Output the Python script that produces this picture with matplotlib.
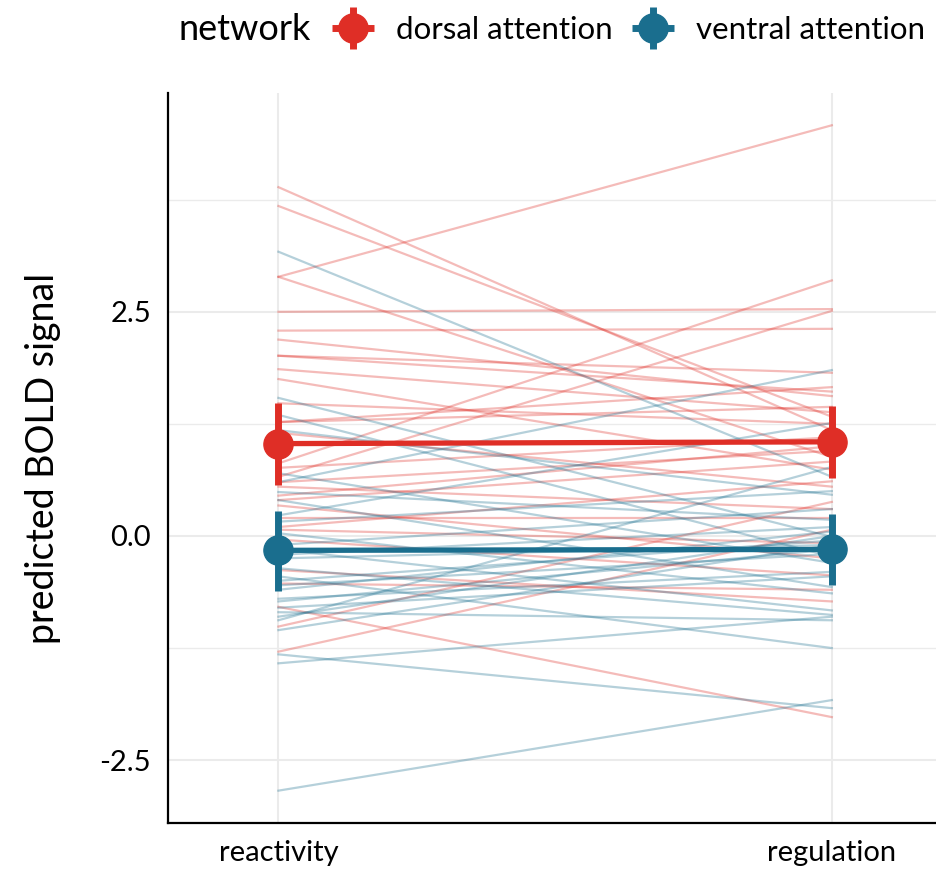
import numpy as np
import matplotlib as mpl
mpl.use("Agg")
import matplotlib.pyplot as plt
from matplotlib.lines import Line2D
from matplotlib.legend_handler import HandlerTuple

plt.rcParams.update({"font.family": ["Lato", "DejaVu Sans"]})

# conditions on x
conditions = ["reactivity", "regulation"]

# subject-level predicted BOLD, dorsal attention network
dorsal_react = [3.89, 3.68, 2.89, 2.89, 2.50, 2.29, 2.19, 2.01, 2.01, 1.86,
                1.75, 1.48, 1.27, 1.27, 1.15, 0.81, 0.76, 0.66, 0.60, 0.55,
                0.45, 0.40, 0.34, 0.20, 0.07, 0.10, -0.04, -0.38, -0.53, -0.79,
                -1.01, -1.29]
dorsal_reg = [1.18, 1.33, 4.58, 0.88, 2.53, 2.31, 1.56, 1.61, 1.82, 1.38,
              0.74, 1.25, 1.44, 1.66, 0.55, 2.85, 1.10, 2.51, 0.95, 0.30,
              1.00, 0.83, -0.25, 0.20, -0.08, 0.61, -0.44, -0.73, -0.60, -2.02,
              0.38, 0.07]

# subject-level predicted BOLD, ventral attention network
ventral_react = [3.17, 1.54, 1.35, 1.18, 0.70, 0.60, 0.49, 0.40, 0.23, 0.16,
                 0.03, -0.10, -0.15, -0.21, -0.25, -0.36, -0.45, -0.50, -0.55, -0.60,
                 -0.70, -0.73, -0.80, -0.85, -0.90, -0.94, -1.05, -1.32, -1.42, -2.84]
ventral_reg = [0.66, -0.01, -0.23, 0.46, -0.30, 1.85, 0.18, -0.57, 1.26, 0.50,
               -0.64, 0.30, -0.83, 0.10, -0.10, -0.88, -1.25, -0.05, -0.20, 0.05,
               -0.40, -0.15, -0.45, -0.94, 0.00, 0.77, -0.10, -1.92, -0.90, -1.83]

# model estimates with intervals
dorsal_mean = [1.03, 1.05]
dorsal_lo = [0.57, 0.65]
dorsal_hi = [1.48, 1.45]
ventral_mean = [-0.16, -0.15]
ventral_lo = [-0.61, -0.55]
ventral_hi = [0.28, 0.25]

RED = "#DF2E26"
BLUE = "#1A6E8E"

fig = plt.figure(figsize=(9.37, 8.69), dpi=100)
ax = fig.add_axes([0.179, 0.053, 0.821, 0.840])

xs = np.arange(1, len(conditions) + 1)

for a, b in zip(dorsal_react, dorsal_reg):
    ax.plot(xs, [a, b], color=RED, alpha=0.32, lw=1.6, zorder=2)
for a, b in zip(ventral_react, ventral_reg):
    ax.plot(xs, [a, b], color=BLUE, alpha=0.32, lw=1.6, zorder=2)

for m, lo, hi, c in [(dorsal_mean, dorsal_lo, dorsal_hi, RED),
                     (ventral_mean, ventral_lo, ventral_hi, BLUE)]:
    m = np.array(m)
    ax.plot(xs, m, color=c, lw=3.8, zorder=4)
    ax.vlines(xs, lo, hi, color=c, lw=5, zorder=4)
    ax.plot(xs, m, "o", color=c, ms=21, zorder=5)

ax.set_xlim(0.8, 2.19)
ax.set_ylim(-3.2, 4.94)
ax.set_xticks(xs)
ax.set_xticklabels(conditions, fontsize=21)
ax.set_yticks([-2.5, 0, 2.5])
ax.set_yticklabels(["-2.5", "0.0", "2.5"], fontsize=21)
ax.set_yticks([-1.25, 1.25, 3.75], minor=True)
ax.tick_params(length=0, which="both", pad=12)
ax.set_ylabel("predicted BOLD signal", fontsize=27, labelpad=28)

ax.grid(True, which="major", color="#EBEBEB", lw=1.5, zorder=0)
ax.grid(True, which="minor", axis="y", color="#EBEBEB", lw=1.0, zorder=0)
ax.set_axisbelow(True)
for s in ["top", "right"]:
    ax.spines[s].set_visible(False)
for s in ["left", "bottom"]:
    ax.spines[s].set_linewidth(1.6)
    ax.spines[s].set_color("black")


def glyph(c):
    return (Line2D([], [], color=c, marker="_", ms=30, mew=5, ls="none"),
            Line2D([], [], color=c, marker="|", ms=30, mew=5, ls="none"),
            Line2D([], [], color=c, marker="o", ms=21, ls="none"))


fig.text(0.19, 0.966, "network", fontsize=26, va="center", ha="left")
fig.legend([glyph(RED), glyph(BLUE)], ["dorsal attention", "ventral attention"],
           handler_map={tuple: HandlerTuple(ndivide=1, pad=0)},
           loc="center left", bbox_to_anchor=(0.355, 0.966), ncol=2,
           frameon=False, fontsize=22.5, handlelength=1.3, handletextpad=0.72,
           columnspacing=0.65, borderaxespad=0, borderpad=0)

fig.savefig("out.png", dpi=100)
